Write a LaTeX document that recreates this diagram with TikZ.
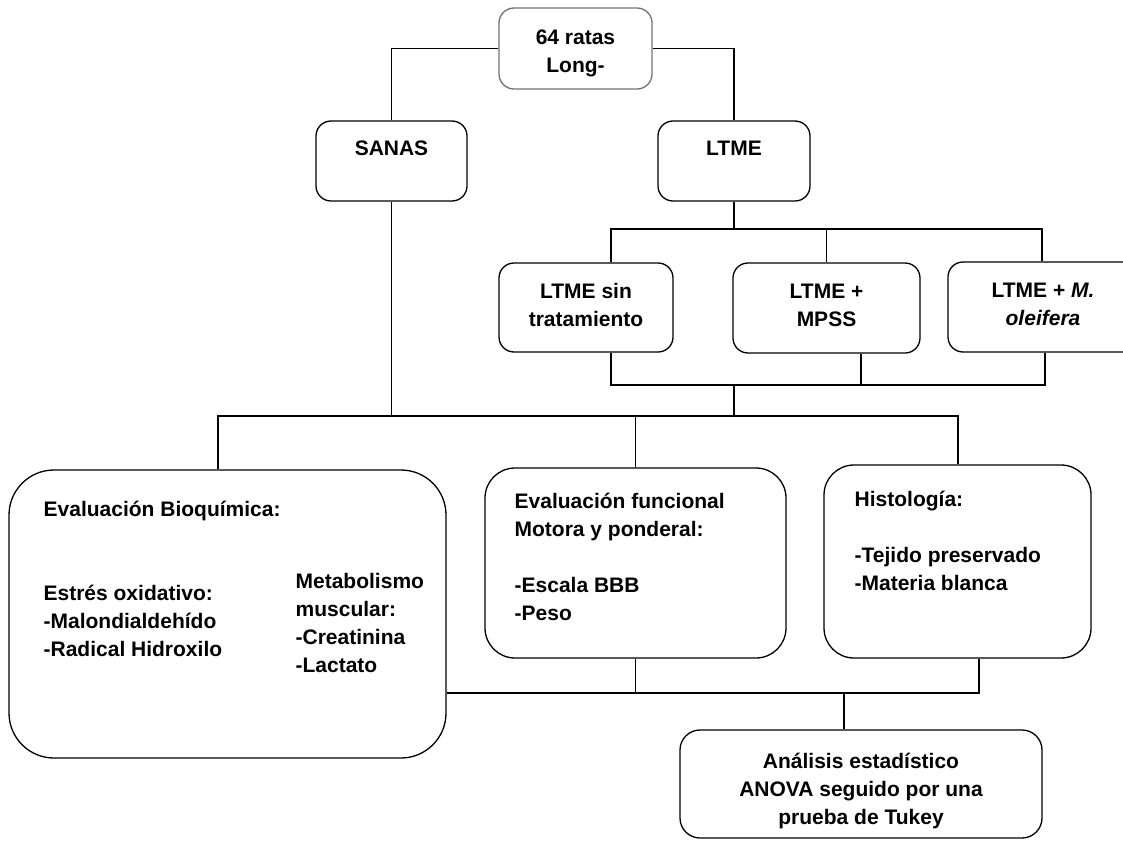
\documentclass[tikz,border=0pt]{standalone}
\usepackage{fontspec}
\setmainfont{Liberation Sans}
\newcommand{\tstrut}{\rule{0pt}{21pt}}
\tikzset{
  box/.style={draw, line width=1.3pt, rounded corners=15pt, inner sep=0pt},
  txt/.style={inner sep=0pt, anchor=north west, align=left, font=\fontsize{21}{28}\selectfont\bfseries},
  ctxt/.style={txt, anchor=north, align=center}
}
\begin{document}
\begin{tikzpicture}[x=1pt, y=-1pt, line width=1.3pt]
  \useasboundingbox (0,0) rectangle (1123,840);
  \clip (0,0) rectangle (1123,840);
  % boxes
  \node[box, draw=black!55, minimum width=153pt, minimum height=81pt] (rats) at (575.5,48.5) {};
  \node[box, minimum width=151pt, minimum height=80pt] (sanas) at (391.5,161) {};
  \node[box, minimum width=152pt, minimum height=80pt] (ltme) at (734,161) {};
  \node[box, minimum width=174pt, minimum height=89pt] (sin) at (586,307.5) {};
  \node[box, minimum width=187pt, minimum height=90pt] (mpss) at (826.5,308) {};
  \node[box, minimum width=202pt, minimum height=90pt] (oleif) at (1049,307) {};
  \node[box, rounded corners=45pt, minimum width=437pt, minimum height=288pt] (bio) at (227.5,614) {};
  \node[box, rounded corners=30pt, minimum width=301pt, minimum height=190pt] (func) at (635.5,563) {};
  \node[box, rounded corners=30pt, minimum width=267pt, minimum height=193pt] (histo) at (957.5,561.5) {};
  \node[box, rounded corners=20pt, minimum width=362pt, minimum height=108pt] (stats) at (861,784) {};
  % texts
  \node[ctxt] (rats-t) at (575.5,23) {\tstrut 64 ratas\\Long-};
  \node[ctxt] (sanas-t) at (391.5,133.5) {\tstrut SANAS};
  \node[ctxt] (ltme-t) at (734,133.5) {\tstrut LTME};
  \node[ctxt] (sin-t) at (586,276.5) {\tstrut LTME sin\\tratamiento};
  \node[ctxt] (mpss-t) at (826.5,276.5) {\tstrut LTME +\\MPSS};
  \node[ctxt] (oleif-t) at (1043,275.5) {\tstrut LTME + \textit{M.}\\\textit{oleifera}};
  \node[txt] (bio-t) at (43,494.5) {\tstrut Evaluación Bioquímica:\\[56pt]Estrés oxidativo:\\ -Malondialdehído\\ -Radical Hidroxilo};
  \node[txt] (metab-t) at (295,566.5) {\tstrut Metabolismo\\muscular:\\ -Creatinina\\ -Lactato};
  \node[txt] (func-t) at (514,486.5) {\tstrut Evaluación funcional\\Motora y ponderal:\\[28pt] -Escala BBB\\ -Peso};
  \node[txt] (histo-t) at (854,484.5) {\tstrut Histología:\\[28pt] -Tejido preservado\\ -Materia blanca};
  \node[ctxt] (stats-t) at (861,746.5) {\tstrut Análisis estadístico\\ANOVA seguido por una\\prueba de Tukey};
  % connectors
  \coordinate (sinTop) at (611,229);
  \coordinate (oleTop) at (1042,229);
  \coordinate (sinBot) at (611,385);
  \coordinate (oleBot) at (1045,385);
  \coordinate (mpssBot) at (861,385);
  \coordinate (bioTop) at (218,416);
  \coordinate (histTop) at (958,416);
  \coordinate (resL) at (446,693);
  \coordinate (resR) at (979,693);
  \coordinate (statsTop) at (844,693);
  \draw (rats.west) -| (sanas.north);
  \draw (rats.east) -| (ltme.north);
  \draw (ltme.south) -- (ltme.south |- sinTop);
  \draw (sin.north -| sinTop) -- (sinTop) -- (oleTop) -- (oleTop |- oleif.north);
  \draw (mpss.north) -- (mpss.north |- sinTop);
  \draw (sin.south -| sinBot) -- (sinBot) -- (oleBot) -- (oleBot |- oleif.south);
  \draw (mpss.south -| mpssBot) -- (mpssBot);
  \draw (ltme.south |- sinBot) -- (ltme.south |- bioTop);
  \draw (sanas.south) -- (sanas.south |- bioTop);
  \draw (bio.north -| bioTop) -- (bioTop) -- (histTop) -- (histTop |- histo.north);
  \draw (func.north) -- (func.north |- bioTop);
  \draw (bio.east |- resL) -- (resR) -- (resR |- histo.south);
  \draw (func.south) -- (func.south |- resL);
  \draw (statsTop) -- (statsTop |- stats.north);
\end{tikzpicture}
\end{document}
